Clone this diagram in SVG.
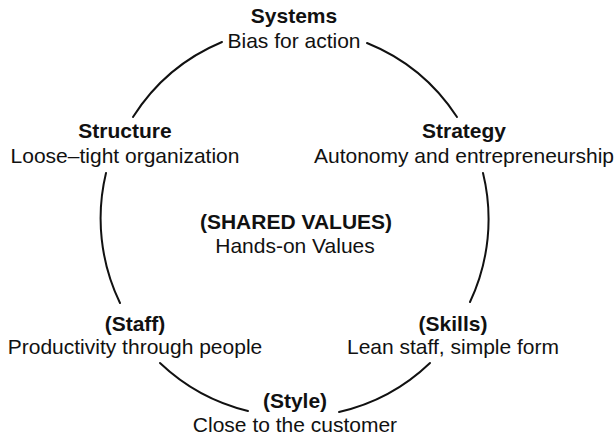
<svg xmlns="http://www.w3.org/2000/svg" width="616" height="438" viewBox="0 0 616 438">
<style>
text{font-family:"Liberation Sans",Arial,Helvetica,sans-serif;font-size:21px;fill:#111;text-anchor:middle}
.b{font-weight:bold}
.arc{fill:none;stroke:#111;stroke-width:2;stroke-linecap:round}
</style>
<rect width="616" height="438" fill="#fff"/>
<g id="connectors">
<path class="arc" d="M133,117 A194,194 0 0 1 222,42"/>
<path class="arc" d="M367,43 A194,194 0 0 1 457,117"/>
<path class="arc" d="M483,173 A194,194 0 0 1 470,302"/>
<path class="arc" d="M430,363 A194,194 0 0 1 339,412"/>
<path class="arc" d="M248,411 A194,194 0 0 1 160,363"/>
<path class="arc" d="M120,303 A194,194 0 0 1 106,173"/>
</g>
<g id="systems"><text class="b" x="294" y="23">Systems</text><text x="294" y="48">Bias for action</text></g>
<g id="structure"><text class="b" x="125" y="138">Structure</text><text x="125" y="163">Loose–tight organization</text></g>
<g id="strategy"><text class="b" x="464" y="138">Strategy</text><text x="464" y="163">Autonomy and entrepreneurship</text></g>
<g id="shared-values"><text class="b" x="296" y="229">(SHARED VALUES)</text><text x="295" y="253">Hands-on Values</text></g>
<g id="staff"><text class="b" x="135" y="331">(Staff)</text><text x="135" y="354">Productivity through people</text></g>
<g id="skills"><text class="b" x="453" y="331">(Skills)</text><text x="453" y="354">Lean staff, simple form</text></g>
<g id="style"><text class="b" x="295" y="408">(Style)</text><text x="295" y="432">Close to the customer</text></g>
</svg>
